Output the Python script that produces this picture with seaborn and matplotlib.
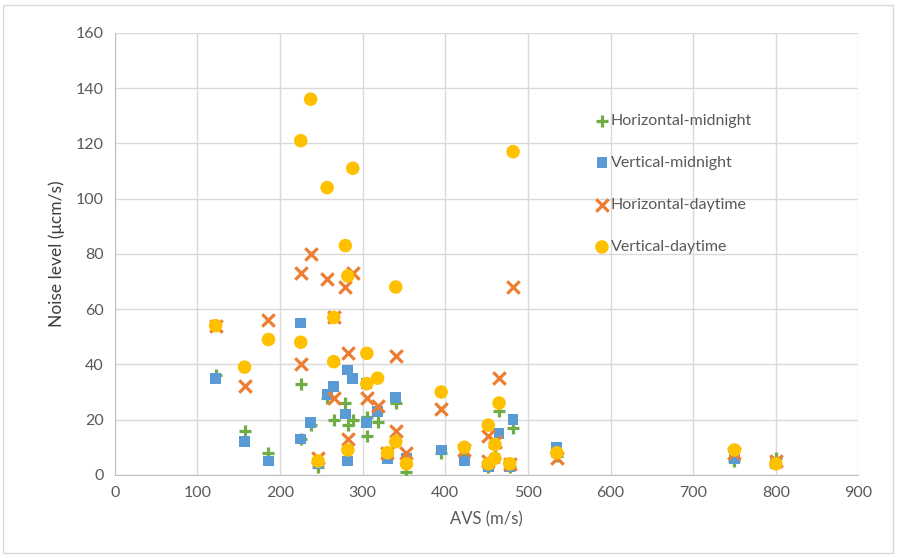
import pandas as pd
import seaborn as sns
import matplotlib.pyplot as plt

# AVS (m/s) and noise level (um cm/s), per series
h_mid_x = [122, 157, 186, 225, 225, 237, 246, 257, 265, 279, 282, 288, 305, 305, 318, 330,
           340, 353, 395, 423, 452, 460, 465, 478, 482, 535, 750, 800]
h_mid_y = [36, 16, 8, 33, 13, 18, 3, 28, 20, 26, 18, 20, 14, 21, 19, 7,
           26, 1, 8, 7, 3, 10, 23, 3, 17, 7, 5, 6]

v_mid_x = [122, 157, 186, 225, 225, 237, 246, 257, 265, 279, 282, 282, 288, 305, 305, 318,
           330, 340, 353, 395, 423, 452, 460, 465, 478, 482, 535, 750, 800]
v_mid_y = [35, 12, 5, 55, 13, 19, 4, 29, 32, 22, 38, 5, 35, 19, 33, 23,
           6, 28, 6, 9, 5, 3, 6, 15, 3, 20, 10, 6, 4]

h_day_x = [122, 157, 186, 225, 225, 237, 246, 257, 265, 265, 279, 282, 282, 288, 305, 318,
           330, 340, 340, 353, 395, 423, 452, 452, 460, 465, 478, 482, 535, 750, 800]
h_day_y = [54, 32, 56, 73, 40, 80, 6, 71, 28, 57, 68, 44, 13, 73, 28, 25,
           8, 43, 16, 8, 24, 9, 14, 5, 12, 35, 4, 68, 6, 8, 5]

v_day_x = [122, 157, 186, 225, 225, 237, 246, 257, 265, 265, 279, 282, 282, 288, 305, 305,
           318, 330, 340, 340, 353, 395, 423, 452, 452, 460, 460, 465, 478, 482, 535, 750, 800]
v_day_y = [54, 39, 49, 121, 48, 136, 5, 104, 41, 57, 83, 72, 9, 111, 33, 44,
           35, 8, 68, 12, 4, 30, 10, 18, 4, 11, 6, 26, 4, 117, 8, 9, 4]

series = ["Horizontal-midnight", "Vertical-midnight", "Horizontal-daytime", "Vertical-daytime"]

df = pd.concat([
    pd.DataFrame({"AVS": h_mid_x, "noise": h_mid_y, "series": series[0]}),
    pd.DataFrame({"AVS": v_mid_x, "noise": v_mid_y, "series": series[1]}),
    pd.DataFrame({"AVS": h_day_x, "noise": h_day_y, "series": series[2]}),
    pd.DataFrame({"AVS": v_day_x, "noise": v_day_y, "series": series[3]}),
], ignore_index=True)

colors = {series[0]: "#70AD47", series[1]: "#5B9BD5", series[2]: "#ED7D31", series[3]: "#FFC000"}
markers = {series[0]: "P", series[1]: "s", series[2]: "X", series[3]: "o"}
sizes = {series[0]: 80, series[1]: 60, series[2]: 80, series[3]: 95}

sns.set_style("white")
plt.rcParams['font.family'] = ['Lato', 'DejaVu Sans']

fig = plt.figure(figsize=(8.97, 5.58), dpi=100)
ax = fig.add_axes([0.128, 0.149, 0.829, 0.792])

# one series at a time so the later ones sit on top
for name in series:
    sub = df[df["series"] == name]
    if name in (series[0], series[2]):
        mk = "+" if name == series[0] else "x"
        ax.scatter(sub["AVS"], sub["noise"], marker=mk, s=sizes[name], color=colors[name],
                   linewidths=2.3, label=name, zorder=3)
    else:
        sns.scatterplot(data=sub, x="AVS", y="noise", marker=markers[name], s=sizes[name],
                        color=colors[name], edgecolor="none", label=name, ax=ax, zorder=3)

ax.set_xlim(0, 900)
ax.set_ylim(0, 160)
ax.set_xticks(range(0, 901, 100))
ax.set_yticks(range(0, 161, 20))
ax.grid(True, color="#D9D9D9", linewidth=1)
ax.set_axisbelow(True)
for side in ["top", "right"]:
    ax.spines[side].set_visible(False)
for side in ["left", "bottom"]:
    ax.spines[side].set_color("#BFBFBF")
ax.tick_params(colors="#595959", labelsize=11.5, length=0, pad=8)

ax.set_xlabel("AVS (m/s)", fontsize=12, color="#595959", labelpad=8)
ax.set_ylabel("Noise level (μcm/s)", fontsize=12.5, color="#404040", labelpad=8)

leg = ax.legend(loc="upper left", bbox_to_anchor=(0.625, 0.85), frameon=False,
                fontsize=11.5, handletextpad=0.05, labelspacing=1.75, handlelength=1.0)
for t in leg.get_texts():
    t.set_color("#595959")

# outer chart border
fig.patches.append(plt.Rectangle((0.003, 0.009), 0.993, 0.982, transform=fig.transFigure,
                                 fill=False, edgecolor="#D9D9D9", linewidth=1))

fig.savefig("out.png", dpi=100)
